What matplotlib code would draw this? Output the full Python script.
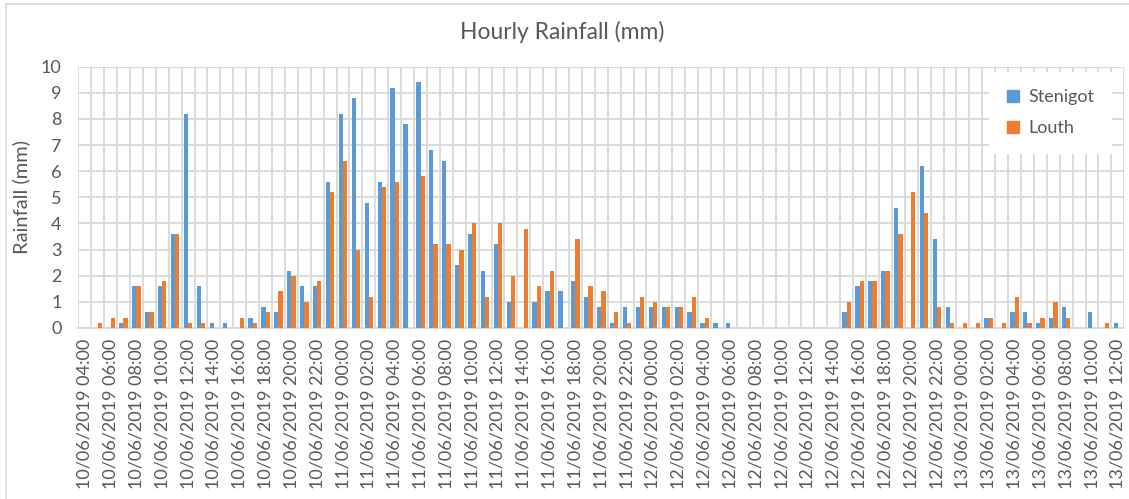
import numpy as np
import pandas as pd
import matplotlib
matplotlib.use("Agg")
import matplotlib.pyplot as plt
from matplotlib.lines import Line2D

plt.rcParams['font.family'] = ['Lato', 'DejaVu Sans']

# ---- data ----
times = pd.date_range("2019-06-10 04:00", "2019-06-13 12:00", freq="h")
categories = [t.strftime("%d/%m/%Y %H:%M") for t in times]

stenigot = [0, 0, 0, 0.2, 1.6, 0.6, 1.6, 3.6, 8.2, 1.6,
            0.2, 0.2, 0, 0.4, 0.8, 0.6, 2.2, 1.6, 1.6, 5.6,
            8.2, 8.8, 4.8, 5.6, 9.2, 7.8, 9.4, 6.8, 6.4, 2.4,
            3.6, 2.2, 3.2, 1.0, 0, 1.0, 1.4, 1.4, 1.8, 1.2,
            0.8, 0.2, 0.8, 0.8, 0.8, 0.8, 0.8, 0.6, 0.2, 0.2,
            0.2, 0, 0, 0, 0, 0, 0, 0, 0, 0.6,
            1.6, 1.8, 2.2, 4.6, 0, 6.2, 3.4, 0.8, 0, 0,
            0.4, 0, 0.6, 0.6, 0.2, 0.4, 0.8, 0, 0.6, 0,
            0.2]
louth = [0, 0.2, 0.4, 0.4, 1.6, 0.6, 1.8, 3.6, 0.2, 0.2,
         0, 0, 0.4, 0.2, 0.6, 1.4, 2.0, 1.0, 1.8, 5.2,
         6.4, 3.0, 1.2, 5.4, 5.6, 0, 5.8, 3.2, 3.2, 3.0,
         4.0, 1.2, 4.0, 2.0, 3.8, 1.6, 2.2, 0, 3.4, 1.6,
         1.4, 0.6, 0.2, 1.2, 1.0, 0.8, 0.8, 1.2, 0.4, 0,
         0, 0, 0, 0, 0, 0, 0, 0, 0, 1.0,
         1.8, 1.8, 2.2, 3.6, 5.2, 4.4, 0.8, 0.2, 0.2, 0.2,
         0.4, 0.2, 1.2, 0.2, 0.4, 1.0, 0.4, 0, 0, 0.2,
         0]
series_names = ["Stenigot", "Louth"]
yticks = list(range(0, 11))

# ---- style ----
BLUE = "#5B9BD5"
ORANGE = "#ED7D31"
GRID = "#D9D9D9"
TEXT = "#595959"

W, H = 1129, 499
fig = plt.figure(figsize=(W / 100, H / 100), dpi=100)
ax = fig.add_axes([78.3 / W, 1 - 328 / H, (1124.3 - 78.3) / W, (328 - 66.7) / H])

x = np.arange(len(categories))
bw = 0.33
ax.bar(x - bw / 2, stenigot, width=bw, color=BLUE, zorder=3, label=series_names[0])
ax.bar(x + bw / 2, louth, width=bw, color=ORANGE, zorder=3, label=series_names[1])

ax.set_xlim(-0.5, len(categories) - 0.5)
ax.set_ylim(0, 10)
ax.set_yticks(yticks)

ax.set_xticks(x[::2])
ax.set_xticklabels(categories[::2], rotation=90, fontsize=13, color=TEXT)
ax.set_xticks(np.arange(-0.5, len(categories), 1), minor=True)
ax.tick_params(axis='x', which='both', length=0, pad=8)
ax.tick_params(axis='y', length=0, pad=12, labelsize=13, labelcolor=TEXT)

ax.grid(axis='y', which='major', color=GRID, linewidth=1.3, zorder=0)
ax.grid(axis='x', which='minor', color=GRID, linewidth=1.3, zorder=0)
ax.set_axisbelow(True)
for s in ['top', 'right', 'left']:
    ax.spines[s].set_visible(False)
ax.spines['bottom'].set_color(GRID)
ax.spines['bottom'].set_linewidth(1.3)

ax.set_ylabel("Rainfall (mm)", fontsize=14.5, color=TEXT)
ax.yaxis.set_label_coords((30 - 78.3) / (1124.3 - 78.3), 0.5)
fig.text(562 / W, 1 - 32 / H, "Hourly Rainfall (mm)", ha='center', va='center',
         fontsize=16.5, color=TEXT)

handles = [Line2D([], [], marker='s', linestyle='none', markersize=8,
                  markerfacecolor=c, markeredgecolor=c) for c in (BLUE, ORANGE)]
leg = ax.legend(handles, series_names, loc='upper right', bbox_to_anchor=(0.988, 0.98),
                fontsize=13, frameon=True, facecolor='white', edgecolor='none',
                framealpha=1, fancybox=False, borderpad=0.95, labelspacing=0.85,
                handlelength=0.8, handletextpad=0.45, borderaxespad=0)
for t in leg.get_texts():
    t.set_color(TEXT)

# chart-area border
fig.add_artist(Line2D([6 / W, 6 / W], [0, 1 - 4 / H], transform=fig.transFigure,
                      color=GRID, linewidth=1.2))
fig.add_artist(Line2D([6 / W, 1], [1 - 4 / H, 1 - 4 / H], transform=fig.transFigure,
                      color=GRID, linewidth=1.2))

fig.savefig("out.png", dpi=100)
